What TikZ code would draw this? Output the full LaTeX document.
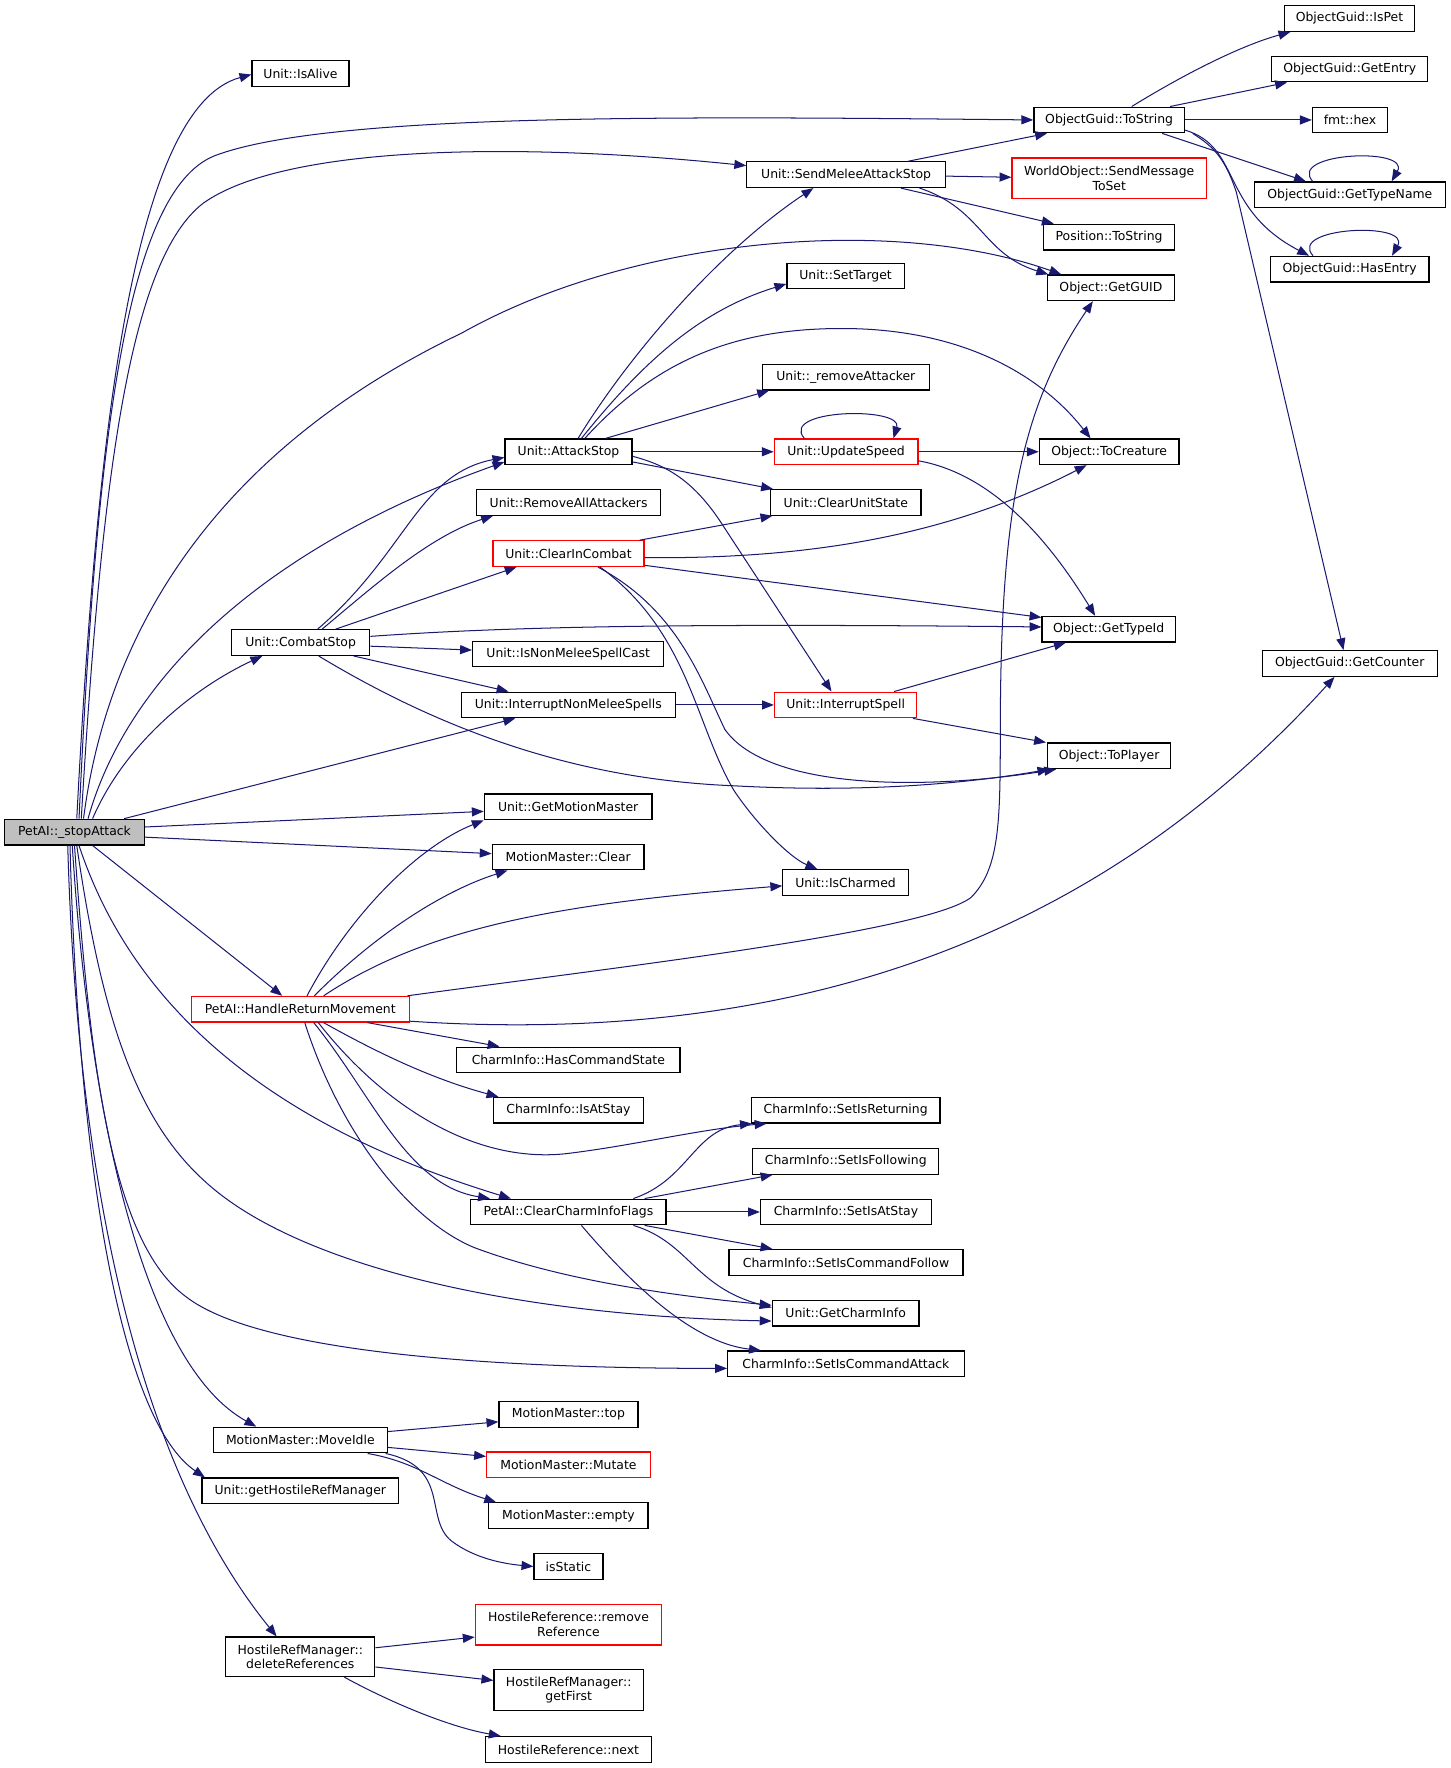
\documentclass[tikz,border=0pt]{standalone}
\usepackage{fontspec}
\setmainfont{DejaVu Sans}
\usetikzlibrary{arrows.meta}
\definecolor{edgec}{HTML}{191970}
\definecolor{boxgray}{HTML}{BFBFBF}
\tikzset{
  box/.style={draw=black, line width=1.1pt, fill=white, inner sep=0pt, minimum height=22.7pt,
    font=\fontsize{11}{13}\selectfont, align=center, text=black},
  redbox/.style={box, draw=red},
  tall/.style={minimum height=36pt},
  edge/.style={draw=edgec, line width=0.9pt, -{Triangle[length=10.5pt,width=8pt]}},
}
\begin{document}
\begin{tikzpicture}[x=1pt,y=-1pt]
\useasboundingbox (0,0) rectangle (1285.2,1566);
% nodes
\node[box, fill=boxgray, minimum width=124pt] (P) at (66,737) {PetAI::\_stopAttack};
\node[box, minimum width=86pt] (IsAlive) at (266.2,65) {Unit::IsAlive};
\node[box, minimum width=133.3pt] (OGT) at (982.4,106.25) {ObjectGuid::ToString};
\node[box, minimum width=115.5pt] (IsPet) at (1195.25,16.4) {ObjectGuid::IsPet};
\node[box, minimum width=138.2pt] (GetEntry) at (1195.6,61.15) {ObjectGuid::GetEntry};
\node[box, minimum width=66.5pt] (hex) at (1195.75,106.25) {fmt::hex};
\node[box, minimum width=168.7pt] (GetTypeName) at (1195.65,172.5) {ObjectGuid::GetTypeName};
\node[box, minimum width=140.4pt] (HasEntry) at (1195.5,238.4) {ObjectGuid::HasEntry};
\node[box, minimum width=175.9pt] (SMAS) at (749.45,154.7) {Unit::SendMeleeAttackStop};
\node[redbox, tall, minimum width=172.2pt] (SMTS) at (982.5,158) {WorldObject::SendMessage\\ToSet};
\node[box, minimum width=116.1pt] (PosTS) at (982.35,210) {Position::ToString};
\node[box, minimum width=112pt] (GetGUID) at (984,254.9) {Object::GetGUID};
\node[box, minimum width=104pt] (SetTarget) at (749,244.5) {Unit::SetTarget};
\node[box, minimum width=147.6pt] (RemAtt) at (749.2,334) {Unit::\_removeAttacker};
\node[redbox, minimum width=127.2pt] (US) at (749.4,400.15) {Unit::UpdateSpeed};
\node[box, minimum width=123.7pt] (ToCreature) at (982.45,400.15) {Object::ToCreature};
\node[box, minimum width=133pt] (CUS) at (749.2,445) {Unit::ClearUnitState};
\node[box, minimum width=112.5pt] (AS) at (503.55,400.15) {Unit::AttackStop};
\node[box, minimum width=162.7pt] (RAA) at (503.65,445) {Unit::RemoveAllAttackers};
\node[redbox, minimum width=133.9pt] (CIC) at (503.55,490.35) {Unit::ClearInCombat};
\node[box, minimum width=118pt] (GetTypeId) at (982,557.3) {Object::GetTypeId};
\node[box, minimum width=155pt] (GetCounter) at (1195.5,587.7) {ObjectGuid::GetCounter};
\node[box, minimum width=122.6pt] (CS) at (266.3,569.15) {Unit::CombatStop};
\node[box, minimum width=169.4pt] (INMSC) at (503.3,579.3) {Unit::IsNonMeleeSpellCast};
\node[box, minimum width=189.2pt] (INMS) at (503.4,624.4) {Unit::InterruptNonMeleeSpells};
\node[redbox, minimum width=126pt] (IS) at (749,624.4) {Unit::InterruptSpell};
\node[box, minimum width=108.7pt] (ToPlayer) at (982.35,669.5) {Object::ToPlayer};
\node[box, minimum width=148.5pt] (GMM) at (503.25,714.65) {Unit::GetMotionMaster};
\node[box, minimum width=134.5pt] (MMC) at (503.25,759.1) {MotionMaster::Clear};
\node[box, minimum width=111.1pt] (IsCharmed) at (748.95,781.65) {Unit::IsCharmed};
\node[redbox, minimum width=192.9pt] (HRM) at (265.95,893.9) {PetAI::HandleReturnMovement};
\node[box, minimum width=197.9pt] (HCS) at (503.45,938.85) {CharmInfo::HasCommandState};
\node[box, minimum width=133pt] (IsAtStay) at (503.5,983.35) {CharmInfo::IsAtStay};
\node[box, minimum width=167.1pt] (SIR) at (749.05,983.35) {CharmInfo::SetIsReturning};
\node[box, minimum width=164.7pt] (SIF) at (749.15,1028.7) {CharmInfo::SetIsFollowing};
\node[box, minimum width=173pt] (CCIF) at (503.5,1073.5) {PetAI::ClearCharmInfoFlags};
\node[box, minimum width=151.4pt] (SIAS) at (749.3,1073.5) {CharmInfo::SetIsAtStay};
\node[box, minimum width=207.3pt] (SICF) at (749.35,1118.15) {CharmInfo::SetIsCommandFollow};
\node[box, minimum width=130pt] (GCI) at (749,1163.1) {Unit::GetCharmInfo};
\node[box, minimum width=209.5pt] (SICA) at (749.25,1208.05) {CharmInfo::SetIsCommandAttack};
\node[box, minimum width=123pt] (MMtop) at (503.5,1252.75) {MotionMaster::top};
\node[box, minimum width=154pt] (MoveIdle) at (266,1275.5) {MotionMaster::MoveIdle};
\node[redbox, minimum width=145pt] (Mutate) at (503.5,1297.5) {MotionMaster::Mutate};
\node[box, minimum width=174pt] (gHRM) at (266,1320.5) {Unit::getHostileRefManager};
\node[box, minimum width=141pt] (empty) at (503.5,1342.5) {MotionMaster::empty};
\node[box, minimum width=61pt] (isStatic) at (503.5,1387.5) {isStatic};
\node[redbox, tall, minimum width=165pt] (remRef) at (503.5,1439) {HostileReference::remove\\Reference};
\node[box, tall, minimum height=35pt, minimum width=132pt] (delRefs) at (266,1467.5) {HostileRefManager::\\deleteReferences};
\node[box, tall, minimum width=132.5pt] (getFirst) at (503.75,1497) {HostileRefManager::\\getFirst};
\node[box, minimum width=147pt] (next) at (503.5,1549.5) {HostileReference::next};
% edges from PetAI::_stopAttack
\draw[edge] ([xshift=2pt]P.north) .. controls (85,400) and (115,95) .. ([yshift=-1pt]IsAlive.west);
\draw[edge] ([xshift=4pt]P.north) .. controls (85,400) and (110,170) .. (190,138) .. controls (290,100) and (600,103) .. (OGT.west);
\draw[edge] ([xshift=6pt]P.north) .. controls (90,420) and (115,230) .. (180,180) .. controls (250,130) and (450,125) .. ([yshift=8pt]SMAS.west);
\draw[edge] ([xshift=8pt]P.north) .. controls (95,560) and (190,400) .. (409,295) .. controls (560,210) and (790,190) .. ([xshift=-44pt]GetGUID.north);
\draw[edge] ([xshift=12pt]P.north) .. controls (110,610) and (220,490) .. ([yshift=-9pt]AS.west);
\draw[edge] ([xshift=16pt]P.north) .. controls (110,660) and (170,610) .. ([xshift=-34pt]CS.south);
\draw[edge] ([xshift=44pt]P.north) -- ([xshift=-47pt]INMS.south);
\draw[edge] ([yshift=4.5pt]P.east) -- ([yshift=-4pt]GMM.west);
\draw[edge] ([yshift=-4.5pt]P.east) -- ([yshift=3pt]MMC.west);
\draw[edge] ([xshift=16pt]P.south) -- ([xshift=-16pt]HRM.north);
\draw[edge] ([xshift=4pt]P.south) .. controls (120,900) and (250,1000) .. ([xshift=-51pt]CCIF.north);
\draw[edge] ([xshift=2pt]P.south) .. controls (90,900) and (120,990) .. (180,1045) .. controls (260,1120) and (450,1165) .. ([yshift=-7pt]GCI.west);
\draw[edge] (P.south) .. controls (80,950) and (100,1100) .. (164,1148) .. controls (230,1200) and (450,1212) .. ([yshift=-4pt]SICA.west);
\draw[edge] ([xshift=-2pt]P.south) .. controls (80,1000) and (130,1210) .. ([xshift=-39pt]MoveIdle.north);
\draw[edge] ([xshift=-4pt]P.south) .. controls (70,1050) and (110,1260) .. ([xshift=3pt]gHRM.north west);
\draw[edge] ([xshift=-6pt]P.south) .. controls (70,1100) and (140,1320) .. ([xshift=-21pt]delRefs.north);
% edges from Unit::CombatStop
\draw[edge] ([xshift=15pt]CS.north) .. controls (360,490) and (370,420) .. ([yshift=-5pt]AS.west);
\draw[edge] ([xshift=19pt]CS.north) .. controls (330,520) and (380,475) .. ([xshift=-67pt]RAA.south);
\draw[edge] ([xshift=31pt]CS.north) -- ([xshift=-46pt]CIC.south);
\draw[edge] ([yshift=5.5pt]CS.east) .. controls (450,555) and (600,552) .. ([yshift=2pt]GetTypeId.west);
\draw[edge] ([yshift=-3.2pt]CS.east) -- ([yshift=3.5pt]INMSC.west);
\draw[edge] ([xshift=47pt]CS.south) -- ([xshift=-53pt]INMS.north);
\draw[edge] ([xshift=16pt]CS.south) .. controls (380,640) and (500,690) .. (650,696) .. controls (760,702) and (850,695) .. ([xshift=2pt]ToPlayer.south west);
% edges from Unit::ClearInCombat
\draw[edge] ([xshift=63pt]CIC.north) -- ([xshift=2pt]CUS.south west);
\draw[edge] ([yshift=-3.6pt]CIC.east) .. controls (700,495) and (830,480) .. ([xshift=-20pt]ToCreature.south);
\draw[edge] ([yshift=1.5pt]CIC.south east) -- ([yshift=-1.5pt]GetTypeId.north west);
\draw[edge] ([xshift=26pt]CIC.south) .. controls (600,540) and (620,600) .. (642,646) .. controls (680,700) and (820,700) .. ([xshift=8pt]ToPlayer.south west);
\draw[edge] ([xshift=28pt]CIC.south) .. controls (610,560) and (615,640) .. (650,700) .. controls (670,730) and (700,760) .. ([xshift=-25pt]IsCharmed.north);
% edges from Unit::AttackStop
\draw[edge] ([xshift=8.5pt]AS.north) .. controls (560,310) and (640,220) .. ([xshift=-29pt]SMAS.south);
\draw[edge] ([xshift=11.5pt]AS.north) .. controls (570,320) and (620,275) .. ([yshift=-7pt]SetTarget.west);
\draw[edge] ([xshift=14.5pt]AS.north) .. controls (580,320) and (650,290) .. (750,291) .. controls (850,292) and (920,330) .. ([xshift=-16.5pt]ToCreature.north);
\draw[edge] ([xshift=33pt]AS.north) -- ([xshift=-68pt]RemAtt.south);
\draw[edge] (AS.east) -- (US.west);
\draw[edge] ([yshift=-9pt]AS.east) -- ([xshift=2.5pt]CUS.north west);
\draw[edge] ([yshift=-4pt]AS.east) .. controls (590,412) and (615,425) .. (642,468) -- ([xshift=-12.5pt]IS.north);
% edges from Unit::UpdateSpeed
\draw[edge] ([xshift=-37pt]US.north) .. controls (690,362) and (800,360) .. ([xshift=42pt]US.north);
\draw[edge] (US.east) -- (ToCreature.west);
\draw[edge] ([yshift=-8pt]US.east) .. controls (880,420) and (930,480) .. ([xshift=-12pt]GetTypeId.north);
% edges from Unit::SendMeleeAttackStop
\draw[edge] ([xshift=55pt]SMAS.north) -- ([xshift=-55pt]OGT.south);
\draw[edge] ([yshift=-1.3pt]SMAS.east) -- ([yshift=1pt]SMTS.west);
\draw[edge] ([xshift=48.5pt]SMAS.south) -- ([xshift=-49pt]PosTS.north);
\draw[edge] ([xshift=65pt]SMAS.south) .. controls (870,185) and (870,225) .. ([xshift=1pt]GetGUID.north west);
% edges from ObjectGuid::ToString
\draw[edge] ([xshift=20pt]OGT.north) .. controls (1050,65) and (1100,40) .. ([xshift=6pt]IsPet.south west);
\draw[edge] ([xshift=54pt]OGT.north) -- ([xshift=14pt]GetEntry.south west);
\draw[edge] (OGT.east) -- (hex.west);
\draw[edge] ([xshift=47pt]OGT.south) -- ([xshift=-39pt]GetTypeName.north);
\draw[edge] ([yshift=-9pt]OGT.east) .. controls (1100,130) and (1080,185) .. ([xshift=-36pt]HasEntry.north);
\draw[edge] ([xshift=74pt]OGT.south) .. controls (1075,130) and (1085,140) .. (1095,170) -- ([xshift=-5.5pt]GetCounter.north);
\draw[edge] ([xshift=-33pt]GetTypeName.north) .. controls (1140,135) and (1250,130) .. ([xshift=37pt]GetTypeName.north);
\draw[edge] ([xshift=-32.5pt]HasEntry.north) .. controls (1140,201) and (1250,196) .. ([xshift=37.5pt]HasEntry.north);
% edges from Unit::InterruptNonMeleeSpells / Unit::InterruptSpell
\draw[edge] (INMS.east) -- (IS.west);
\draw[edge] ([xshift=43pt]IS.north) -- ([xshift=-38pt]GetTypeId.south);
\draw[edge] ([xshift=-4pt]IS.south east) -- ([xshift=-1pt]ToPlayer.north west);
% edges from PetAI::HandleReturnMovement
\draw[edge] ([xshift=6pt]HRM.north) .. controls (310,810) and (370,750) .. (GMM.south west);
\draw[edge] ([xshift=12.5pt]HRM.north) .. controls (330,830) and (390,790) .. ([xshift=14pt]MMC.south west);
\draw[edge] ([xshift=20.7pt]HRM.north) .. controls (380,820) and (500,800) .. ([yshift=-3pt]IsCharmed.west);
\draw[edge] ([xshift=-2pt]HRM.north east) .. controls (560,855) and (820,825) .. (860,795) .. controls (885,770) and (886,730) .. (886,650) .. controls (886,450) and (905,360) .. ([xshift=-16pt]GetGUID.south);
\draw[edge] ([yshift=1.3pt]HRM.south east) .. controls (750,930) and (1000,800) .. ([xshift=-13.5pt]GetCounter.south);
\draw[edge] ([xshift=59.6pt]HRM.south) -- ([xshift=-61pt]HCS.north);
\draw[edge] ([xshift=20.7pt]HRM.south) .. controls (330,930) and (380,955) .. ([xshift=5pt]IsAtStay.north west);
\draw[edge] ([xshift=16pt]HRM.south) .. controls (340,980) and (420,1030) .. (500,1022) .. controls (560,1015) and (620,1000) .. ([xshift=14pt]SIR.south west);
\draw[edge] ([xshift=12pt]HRM.south) .. controls (330,970) and (360,1050) .. ([xshift=-69.5pt]CCIF.north);
\draw[edge] ([xshift=4pt]HRM.south) .. controls (300,1000) and (360,1080) .. (420,1105) .. controls (500,1135) and (600,1148) .. ([yshift=7pt]GCI.west);
% edges from PetAI::ClearCharmInfoFlags
\draw[edge] ([xshift=57.5pt]CCIF.north) .. controls (610,1045) and (615,1000) .. ([xshift=1pt]SIR.south west);
\draw[edge] ([xshift=67.5pt]CCIF.north) -- ([xshift=18pt]SIF.south west);
\draw[edge] (CCIF.east) -- (SIAS.west);
\draw[edge] ([xshift=67.5pt]CCIF.south) -- ([xshift=39pt]SICF.north west);
\draw[edge] ([xshift=57.5pt]CCIF.south) .. controls (610,1100) and (615,1140) .. ([yshift=5pt]GCI.west);
\draw[edge] ([xshift=11.5pt]CCIF.south) .. controls (570,1150) and (620,1190) .. ([xshift=30pt]SICA.north west);
% edges from MotionMaster::MoveIdle
\draw[edge] ([yshift=7.5pt]MoveIdle.east) -- ([yshift=-6.6pt]MMtop.west);
\draw[edge] ([yshift=-6.5pt]MoveIdle.east) -- ([yshift=7.5pt]Mutate.west);
\draw[edge] ([xshift=59.6pt]MoveIdle.south) .. controls (370,1295) and (390,1315) .. ([xshift=7pt]empty.north west);
\draw[edge] ([xshift=-2pt]MoveIdle.south east) .. controls (400,1300) and (375,1345) .. (400,1365) .. controls (420,1380) and (445,1385) .. (isStatic.west);
% edges from HostileRefManager::deleteReferences
\draw[edge] ([yshift=8pt]delRefs.east) -- ([yshift=-11pt]remRef.west);
\draw[edge] ([yshift=-9pt]delRefs.east) -- ([yshift=8.6pt]getFirst.west);
\draw[edge] ([xshift=39pt]delRefs.south) .. controls (350,1510) and (400,1530) .. ([xshift=14pt]next.north west);
\end{tikzpicture}
\end{document}
